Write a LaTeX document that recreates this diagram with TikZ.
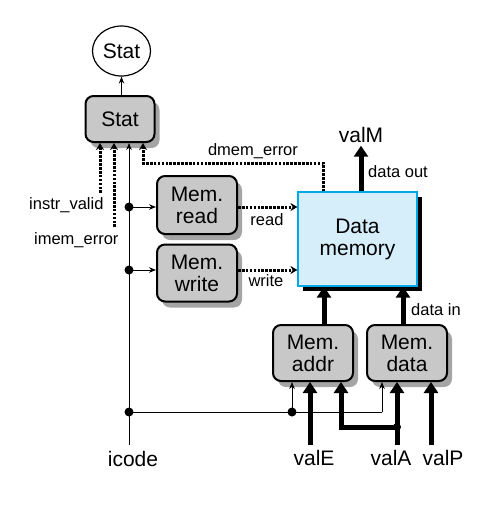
\documentclass[tikz,border=0pt]{standalone}
\usepackage{fontspec}
\setmainfont{Liberation Sans}
\usetikzlibrary{arrows.meta,shadows,shapes.geometric}
\definecolor{boxgray}{RGB}{200,200,200}
\definecolor{shadegray}{RGB}{165,165,165}
\definecolor{memfill}{RGB}{214,238,250}
\definecolor{memedge}{RGB}{0,168,230}

\begin{document}
\begin{tikzpicture}[x=1pt,y=-1pt,
  big/.style={font=\fontsize{21}{22}\selectfont},
  small/.style={font=\fontsize{16.5}{18}\selectfont},
  hclbox/.style={draw, line width=2pt, rounded corners=8pt, fill=boxgray,
    align=center, big, inner sep=0pt,
    drop shadow={shadow xshift=5pt, shadow yshift=-6pt, fill=shadegray, opacity=1}},
  thinarrow/.style={line width=0.9pt, -{Stealth[length=7pt,width=5.5pt]}},
  thinline/.style={line width=0.9pt},
  sig/.style={line width=3pt, dash pattern=on 2.6pt off 1.3pt,
    -{Stealth[length=7pt,width=8pt]}},
  wide/.style={line width=5pt, -{Triangle[length=11pt,width=14pt]}},
  dot/.style={circle, fill=black, inner sep=0pt, minimum size=9pt},
]
\useasboundingbox (0,0) rectangle (495,507);

% status output and status block
\node[ellipse, draw, line width=1.2pt, minimum width=58pt, minimum height=50pt,
  big, inner sep=0pt] (statout) at (121.5,51) {Stat};
\node[hclbox, minimum width=69pt, minimum height=46pt] (statbox) at (120,119) {Stat};

% control blocks
\node[hclbox, minimum width=80pt, minimum height=58pt] (rd) at (197,205) {Mem.\\read};
\node[hclbox, minimum width=80pt, minimum height=57pt] (wr) at (197,273) {Mem.\\write};
\node[hclbox, minimum width=80pt, minimum height=56pt] (ma) at (313,353) {Mem.\\addr};
\node[hclbox, minimum width=80pt, minimum height=56pt] (md) at (407,353) {Mem.\\data};

% data memory
\node[draw=memedge, line width=1.2pt, fill=memfill, minimum width=119pt,
  minimum height=94pt, big, align=center,
  drop shadow={shadow xshift=5pt, shadow yshift=-5pt, fill=black, opacity=1}]
  (dm) at (357.5,239) {Data\\memory};

% labels
\node[small, anchor=base east] (ivl) at (107,209) {instr\_valid};
\node[small, anchor=base east] (iel) at (122,244) {imem\_error};
\node[small, anchor=base] (del) at (253,155) {dmem\_error};
\node[small, anchor=base] (rdl) at (267,225) {read};
\node[small, anchor=base] (wrl) at (266,286) {write};
\node[small, anchor=base] (dol) at (398,177) {data out};
\node[small, anchor=base] (dil) at (436,315) {data in};
\node[big, anchor=base] (valM) at (361,142) {valM};
\node[big, anchor=base] (icode) at (133,466) {icode};
\node[big, anchor=base] (valE) at (314,465) {valE};
\node[big, anchor=base] (valA) at (391,465) {valA};
\node[big, anchor=base] (valP) at (443,465) {valP};

% helper points
\coordinate (iv) at (100,193);
\coordinate (ie) at (114,227);
\coordinate (ic) at (129,445);
\coordinate (de) at (323,163);
\coordinate (de2) at (143,163);
\coordinate (ax) at (324,0);
\coordinate (dx) at (403,0);
\coordinate (eB) at (310,445);
\coordinate (aB) at (397,445);
\coordinate (pB) at (431,445);
\coordinate (ab) at (341,427);
\coordinate (cx) at (382,412);

\node[dot] (d1) at (129,207) {};
\node[dot] (d2) at (129,270) {};
\node[dot] (d3) at (129,412) {};
\node[dot] (d4) at (292,412) {};
\node[dot, minimum size=8pt] (da) at (397,427) {};

% status signals
\draw[thinarrow] (statbox.north -| statout.south) -- (statout.south);
\draw[sig] (iv) -- (iv |- statbox.south);
\draw[sig] (ie) -- (ie |- statbox.south);
\draw[thinarrow] (ic) -- (ic |- statbox.south);
\draw[sig] (dm.north -| de) -- (de) -- (de2) -- (de2 |- statbox.south);

% icode distribution
\draw[thinarrow] (d1.center) -- (d1 -| rd.west);
\draw[thinarrow] (d2.center) -- (d2 -| wr.west);
\draw[thinline] (d3.center) -- (cx);
\draw[thinarrow] (cx) -- (cx |- md.south);
\draw[thinarrow] (d4.center) -- (d4 |- ma.south);

% memory control
\draw[sig] (rd.east |- d1) -- (dm.west |- d1);
\draw[sig] (wr.east |- d2) -- (dm.west |- d2);

% data paths
\draw[wide] (dm.north -| valM) -- (valM.south);
\draw[wide] (ma.north -| ax) -- (dm.south -| ax);
\draw[wide] (md.north -| dx) -- (dm.south -| dx);
\draw[wide] (eB) -- (eB |- ma.south);
\draw[wide] (aB) -- (aB |- md.south);
\draw[wide] (pB) -- (pB |- md.south);
\draw[wide] (da.center) -- (ab) -- (ab |- ma.south);
\end{tikzpicture}
\end{document}
